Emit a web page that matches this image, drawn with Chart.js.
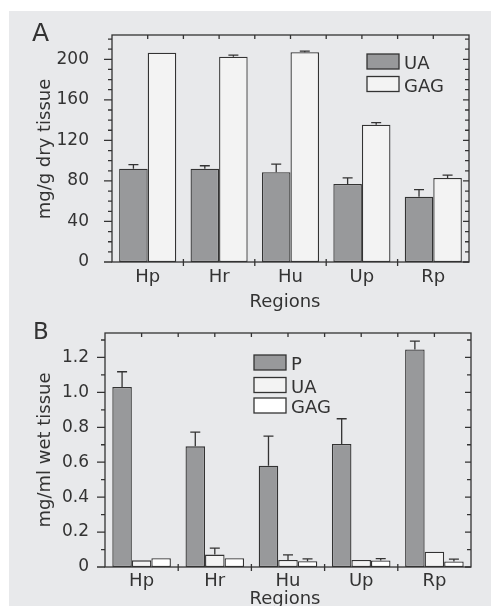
<!DOCTYPE html>
<html><head><meta charset="utf-8">
<script src="https://cdn.jsdelivr.net/npm/chart.js@4"></script>
<style>
html,body{margin:0;padding:0;background:#fff;width:491px;height:606px;overflow:hidden}
#bg{position:absolute;left:9px;top:11px;width:482px;height:595px;background:#e8e9eb}
canvas{position:absolute;left:0}
#cA{top:0}
#cB{top:300px}
</style></head><body>
<div id="bg"></div>
<canvas id="cA" width="491" height="315"></canvas>
<canvas id="cB" width="491" height="306"></canvas>
<script>
// ---- data ----
const regions = ['Hp', 'Hr', 'Hu', 'Up', 'Rp'];

// Panel A: mg/g dry tissue
const dryUA = [92, 92, 88.5, 77, 64.5];
const dryUAErr = [4, 3, 8, 6, 7];
const dryGAG = [206.5, 202.5, 207, 135.5, 83];
const dryGAGErr = [0, 1.7, 1, 2, 2.8];
const dryTicks = [0, 40, 80, 120, 160, 200];

// Panel B: mg/ml wet tissue
const wetP = [1.031, 0.691, 0.580, 0.705, 1.246];
const wetPErr = [0.087, 0.081, 0.169, 0.144, 0.048];
const wetUA = [0.038, 0.071, 0.040, 0.040, 0.088];
const wetUAErr = [0, 0.037, 0.029, 0, 0];
const wetGAG = [0.050, 0.050, 0.033, 0.037, 0.032];
const wetGAGErr = [0, 0, 0.013, 0.011, 0.013];
const wetTicks = ['0', '0.2', '0.4', '0.6', '0.8', '1.0', '1.2'];

// ---- style ----
const FONT = "'DejaVu Sans', sans-serif";
const INK = '#333333';
const GRAY = '#98999b';
const LIGHT = '#f3f3f3';
const WHITE = '#ffffff';

const decor = {
  id: 'decor',
  afterDatasetsDraw(chart) {
    const ctx = chart.ctx;
    const y = chart.scales.y;
    ctx.save();
    ctx.strokeStyle = INK;
    ctx.lineWidth = 1.3;
    chart.data.datasets.forEach((ds, i) => {
      const meta = chart.getDatasetMeta(i);
      meta.data.forEach((el, j) => {
        const e = ds.errors[j];
        if (!e) return;
        const y1 = y.getPixelForValue(ds.data[j]);
        const y2 = y.getPixelForValue(ds.data[j] + e);
        ctx.beginPath();
        ctx.moveTo(el.x, y1); ctx.lineTo(el.x, y2);
        ctx.moveTo(el.x - 5, y2); ctx.lineTo(el.x + 5, y2);
        ctx.stroke();
      });
    });
    ctx.restore();
  },
  afterDraw(chart) {
    const o = chart.options.plugins.decor;
    const ctx = chart.ctx;
    const a = chart.chartArea;
    const ys = chart.scales.y;
    ctx.save();
    ctx.strokeStyle = INK;
    ctx.lineWidth = 1.3;
    // frame
    ctx.strokeRect(a.left, a.top, a.right - a.left, a.bottom - a.top);
    // y ticks (minor + major) on left (outward) and right (inward)
    ctx.beginPath();
    const n = Math.round(ys.max / o.minor);
    for (let k = 0; k <= n; k++) {
      const v = k * o.minor;
      const py = ys.getPixelForValue(v);
      const major = Math.abs(Math.round(v / o.major) * o.major - v) < 1e-9;
      ctx.moveTo(a.left - (major ? 8 : 4), py); ctx.lineTo(a.left, py);
      ctx.moveTo(a.right - (major ? 6 : 4), py); ctx.lineTo(a.right, py);
    }
    // top ticks at half-category positions, bottom ticks at category boundaries
    const nc = chart.data.labels.length;
    const w = (a.right - a.left) / nc;
    for (let i = 1; i < 2 * nc; i++) {
      const px = a.left + i * w / 2;
      ctx.moveTo(px, a.top); ctx.lineTo(px, a.top + 4);
    }
    for (let i = 1; i < nc; i++) {
      const px = a.left + i * w;
      ctx.moveTo(px, a.bottom - 3); ctx.lineTo(px, a.bottom + 4);
    }
    ctx.stroke();
    // legend
    ctx.font = '18px ' + FONT;
    ctx.fillStyle = INK;
    ctx.textAlign = 'left';
    ctx.textBaseline = 'alphabetic';
    chart.data.datasets.forEach((ds, i) => {
      const top = o.legend.y[i];
      ctx.fillStyle = ds.backgroundColor;
      ctx.fillRect(o.legend.x, top, 32, 15);
      ctx.strokeRect(o.legend.x, top, 32, 15);
      ctx.fillStyle = INK;
      ctx.fillText(ds.label, o.legend.x + 37, top + 15);
    });
    // panel letter
    ctx.font = o.letterSize + 'px ' + FONT;
    ctx.fillText(o.letter, o.letterX, o.letterY);
    // axis titles
    ctx.font = '18px ' + FONT;
    ctx.textAlign = 'center';
    ctx.fillText('Regions', o.xTitleX, o.xTitleY);
    ctx.translate(o.yTitleX, o.yTitleY);
    ctx.rotate(-Math.PI / 2);
    ctx.fillText(o.yTitle, 0, 0);
    ctx.restore();
  }
};

function makeChart(id, cfg) {
  return new Chart(document.getElementById(id), {
    type: 'bar',
    data: { labels: regions, datasets: cfg.datasets },
    options: {
      responsive: false,
      animation: false,
      devicePixelRatio: 1,
      layout: { padding: cfg.padding },
      plugins: { legend: { display: false }, tooltip: { enabled: false }, decor: cfg.decor },
      datasets: { bar: { categoryPercentage: 0.8, barPercentage: 1, borderWidth: 1.3, borderColor: INK, borderSkipped: false } },
      scales: {
        x: {
          grid: { display: false, drawTicks: false },
          border: { display: false },
          ticks: { color: INK, font: { family: FONT, size: 18 }, padding: cfg.xPad, maxRotation: 0 },
          afterFit: s => { s.height = cfg.xHeight; }
        },
        y: {
          min: 0, max: cfg.max,
          grid: { display: false, drawTicks: false },
          border: { display: false },
          ticks: {
            stepSize: cfg.step, autoSkip: false, color: INK, padding: cfg.yPad,
            font: { family: FONT, size: 17 },
            callback: (v, i) => (i < cfg.labels.length ? cfg.labels[i] : '')
          },
          afterFit: s => { s.width = cfg.yWidth; }
        }
      }
    },
    plugins: [decor]
  });
}

makeChart('cA', {
  padding: { left: 0, right: 22, top: 35, bottom: 0 },
  xHeight: 53, yWidth: 112, xPad: 5, yPad: 23,
  max: 224, step: 40, labels: dryTicks.map(String),
  datasets: [
    { label: 'UA', data: dryUA, errors: dryUAErr, backgroundColor: GRAY },
    { label: 'GAG', data: dryGAG, errors: dryGAGErr, backgroundColor: LIGHT }
  ],
  decor: {
    minor: 10, major: 40,
    legend: { x: 367, y: [54, 76.5] },
    letter: 'A', letterSize: 25, letterX: 32, letterY: 41,
    xTitleX: 285, xTitleY: 306.5,
    yTitle: 'mg/g dry tissue', yTitleX: 50, yTitleY: 149
  }
});

makeChart('cB', {
  padding: { left: 0, right: 20, top: 33, bottom: 0 },
  xHeight: 39, yWidth: 105, xPad: 4, yPad: 16,
  max: 1.34, step: 0.2, labels: wetTicks,
  datasets: [
    { label: 'P', data: wetP, errors: wetPErr, backgroundColor: GRAY },
    { label: 'UA', data: wetUA, errors: wetUAErr, backgroundColor: LIGHT },
    { label: 'GAG', data: wetGAG, errors: wetGAGErr, backgroundColor: WHITE }
  ],
  decor: {
    minor: 0.1, major: 0.2,
    legend: { x: 254, y: [55, 77.5, 98] },
    letter: 'B', letterSize: 23, letterX: 33, letterY: 38.5,
    xTitleX: 285, xTitleY: 304,
    yTitle: 'mg/ml wet tissue', yTitleX: 50, yTitleY: 150
  }
});
</script>
</body></html>
